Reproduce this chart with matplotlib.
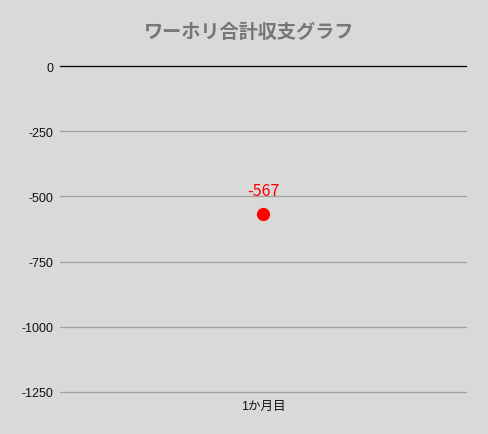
import matplotlib
matplotlib.use("Agg")
import matplotlib.pyplot as plt

plt.rcParams['font.family'] = ['Liberation Sans', 'Noto Sans CJK JP', 'DejaVu Sans']

# データ
months = ["1か月目"]
totals = [-567]
yticks = [0, -250, -500, -750, -1000, -1250]

bg = "#d9d9d9"
fig = plt.figure(figsize=(4.88, 4.35), dpi=100, facecolor=bg)
ax = fig.add_axes([60 / 488, 42 / 435, 406 / 488, 326 / 435], facecolor=bg)

ax.set_ylim(-1250, 0)
ax.set_xlim(-0.5, len(months) - 0.5)
ax.set_yticks(yticks)
ax.set_yticklabels([str(v) for v in yticks])
ax.set_xticks(range(len(months)))
ax.set_xticklabels(months)
ax.tick_params(length=0, labelsize=9, colors="#111111")
ax.tick_params(axis="y", pad=4.5)
ax.tick_params(axis="x", pad=6)
for s in ax.spines.values():
    s.set_visible(False)

# 目盛り線
for v in yticks:
    ax.axhline(v, color="#000000" if v == 0 else "#a0a0a0", lw=0.9, zorder=1, clip_on=False)

xs = list(range(len(months)))
ax.plot(xs, totals, "o", color="#ff0000", markersize=8.5, zorder=3)
for x, y in zip(xs, totals):
    ax.annotate(str(y), (x, y), xytext=(0, 11), textcoords="offset points",
                ha="center", va="bottom", color="#ff0000", fontsize=11.5,
                family=['Noto Sans CJK JP', 'DejaVu Sans'])

fig.text(249 / 488, 1 - 33 / 435, "ワーホリ合計収支グラフ", ha="center", va="center",
         fontsize=13.8, fontweight="bold", color="#767676",
         family=['Noto Sans CJK JP', 'DejaVu Sans'])

fig.savefig("out.png", dpi=100, facecolor=bg)
